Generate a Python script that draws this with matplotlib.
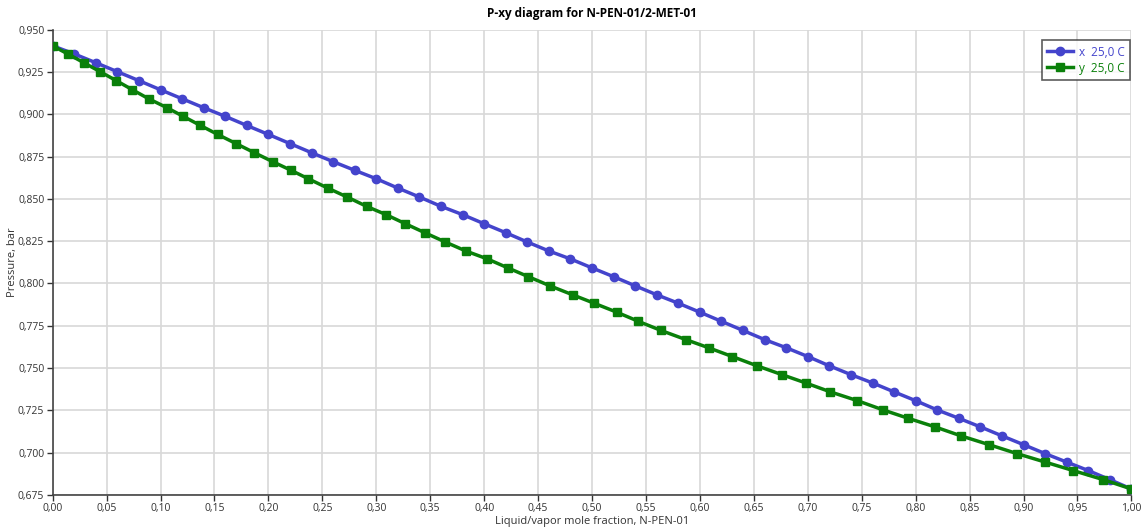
import matplotlib
matplotlib.use("Agg")
from matplotlib import pyplot as plt
from matplotlib.ticker import FuncFormatter, MultipleLocator

# liquid mole fraction of N-PEN-01 and bubble pressure (bar) at 25 C
x_liq = [0.00, 0.02, 0.04, 0.06, 0.08, 0.10, 0.12, 0.14, 0.16, 0.18,
         0.20, 0.22, 0.24, 0.26, 0.28, 0.30, 0.32, 0.34, 0.36, 0.38,
         0.40, 0.42, 0.44, 0.46, 0.48, 0.50, 0.52, 0.54, 0.56, 0.58,
         0.60, 0.62, 0.64, 0.66, 0.68, 0.70, 0.72, 0.74, 0.76, 0.78,
         0.80, 0.82, 0.84, 0.86, 0.88, 0.90, 0.92, 0.94, 0.96, 0.98, 1.00]
pressure = [0.9405, 0.9357, 0.9305, 0.9252, 0.9199, 0.9145, 0.9092, 0.9039, 0.8988, 0.8934,
            0.8881, 0.8827, 0.8773, 0.8720, 0.8669, 0.8619, 0.8564, 0.8511, 0.8456, 0.8407,
            0.8353, 0.8300, 0.8245, 0.8192, 0.8145, 0.8092, 0.8040, 0.7986, 0.7933, 0.7883,
            0.7830, 0.7776, 0.7722, 0.7668, 0.7620, 0.7568, 0.7513, 0.7461, 0.7412, 0.7359,
            0.7307, 0.7252, 0.7203, 0.7152, 0.7099, 0.7047, 0.6994, 0.6944, 0.6894, 0.6840, 0.6785]
# vapor mole fraction in equilibrium with each liquid point
y_vap = [0.000, 0.014, 0.029, 0.044, 0.059, 0.074, 0.089, 0.106, 0.121, 0.137,
         0.153, 0.170, 0.187, 0.204, 0.221, 0.237, 0.255, 0.273, 0.291, 0.309,
         0.327, 0.345, 0.364, 0.383, 0.403, 0.422, 0.441, 0.461, 0.482, 0.502,
         0.523, 0.543, 0.564, 0.587, 0.608, 0.630, 0.653, 0.676, 0.698, 0.721,
         0.746, 0.770, 0.793, 0.818, 0.842, 0.868, 0.894, 0.920, 0.946, 0.974, 1.000]

blue = "#4444cc"
green = "#0a800a"

plt.rcParams['font.family'] = ['Open Sans', 'DejaVu Sans']

fig = plt.figure(figsize=(11.44, 5.31), dpi=100)
ax = fig.add_axes([0.046, 0.068, 0.943, 0.876])

ax.plot(x_liq, pressure, color=blue, lw=2.5, marker='o', ms=6, label="x  25,0 C", zorder=3)
ax.plot(y_vap, pressure, color=green, lw=2.5, marker='s', ms=6, label="y  25,0 C", zorder=3)

ax.set_xlim(0, 1.0)
ax.set_ylim(0.675, 0.950)
ax.xaxis.set_major_locator(MultipleLocator(0.05))
ax.yaxis.set_major_locator(MultipleLocator(0.025))
ax.xaxis.set_major_formatter(FuncFormatter(lambda v, p: f"{v:.2f}".replace(".", ",")))
ax.yaxis.set_major_formatter(FuncFormatter(lambda v, p: f"{v:.3f}".replace(".", ",")))
ax.tick_params(labelsize=7.5, colors="#333333", length=4, width=1, pad=2)

ax.grid(True, color="#d8d8d8", lw=1.2)
ax.set_axisbelow(True)
for s in ("top", "right"):
    ax.spines[s].set_visible(False)
for s in ("left", "bottom"):
    ax.spines[s].set_color("#444444")
    ax.spines[s].set_linewidth(1.2)

ax.set_title("P-xy diagram for N-PEN-01/2-MET-01", fontsize=8.5, fontweight="bold", pad=9)
ax.set_xlabel("Liquid/vapor mole fraction, N-PEN-01", fontsize=8, color="#333333", labelpad=1)
ax.set_ylabel("Pressure, bar", fontsize=8, color="#333333", labelpad=0)

leg = ax.legend(loc="upper right", bbox_to_anchor=(1.004, 0.99), fontsize=8.5, frameon=True,
                fancybox=False, edgecolor="#333333", handlelength=2.2, borderpad=0.45,
                labelspacing=0.25, handletextpad=0.5)
leg.get_frame().set_linewidth(1.2)
for t, c in zip(leg.get_texts(), (blue, green)):
    t.set_color(c)

fig.savefig("out.png", dpi=100)
